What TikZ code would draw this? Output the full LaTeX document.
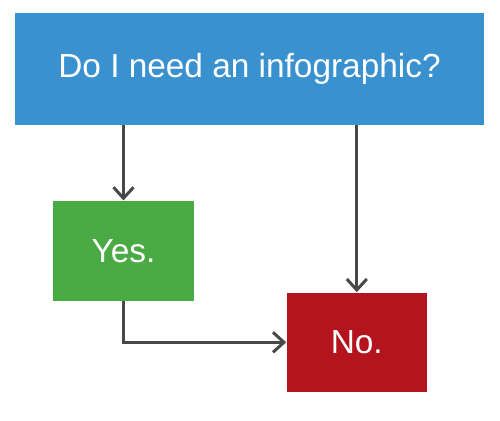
\documentclass[tikz,border=0pt]{standalone}
\usepackage{fontspec}
\setmainfont{Liberation Sans}
\usepackage{tikz}
\usetikzlibrary{arrows.meta,positioning}
\definecolor{cQ}{RGB}{58,145,208}
\definecolor{cY}{RGB}{74,170,68}
\definecolor{cN}{RGB}{180,20,30}
\definecolor{cL}{RGB}{72,72,72}
\tikzset{
  box/.style={rectangle, inner sep=0pt, text=white, font=\fontsize{19}{22}\selectfont},
  arr/.style={-{Straight Barb[length=2.2mm, width=4mm]}, line width=1.7pt, draw=cL}
}

\begin{document}
\begin{tikzpicture}[x=0.02cm, y=-0.02cm]
  \useasboundingbox (0,0) rectangle (500,420);
  \node[box, fill=cQ, minimum width=9.37cm, minimum height=2.23cm] (q) at (249.5,69.2) {Do I need an infographic?};
  \node[box, fill=cY, minimum width=2.82cm, minimum height=2cm] (yes) at (123.5,250.8) {Yes.};
  \node[box, fill=cN, minimum width=2.81cm, minimum height=1.99cm] (no) at (356.8,342.3) {No.};
  \draw[arr] (q.south -| yes.north) -- (yes.north);
  \draw[arr] (q.south -| no.north) -- (no.north);
  \draw[arr] (yes.south) |- (no.west);
\end{tikzpicture}
\end{document}
